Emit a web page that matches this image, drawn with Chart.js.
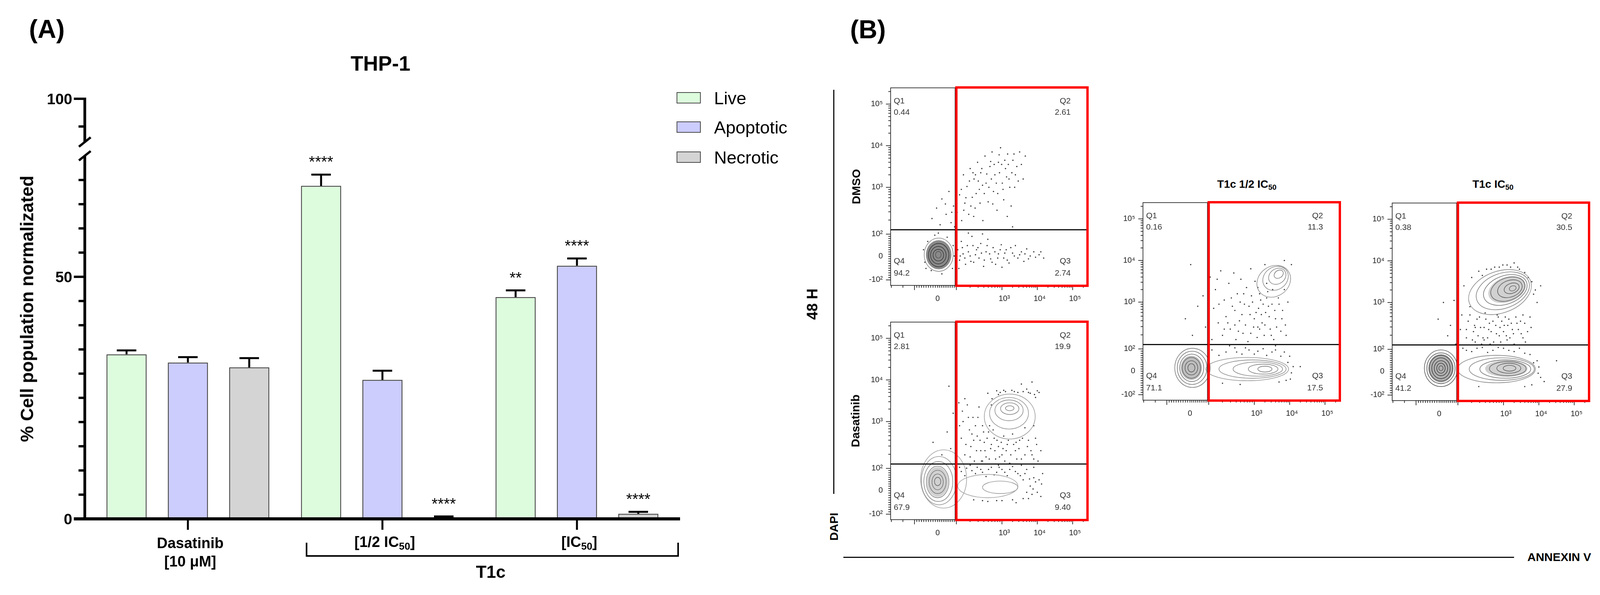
<!DOCTYPE html>
<html><head><meta charset="utf-8">
<script src="https://cdn.jsdelivr.net/npm/chart.js"></script>
<style>
html,body{margin:0;padding:0;background:#fff;}
body{width:4124px;height:1524px;position:relative;overflow:hidden;font-family:"Liberation Sans",Arial,sans-serif;color:#000;}
.t{position:absolute;white-space:nowrap;line-height:1;}
canvas{position:absolute;}
sub{font-size:0.68em;vertical-align:-0.28em;line-height:0;}
.ln{position:absolute;background:#111;}
</style></head><body>
<script>
// ---------------- DATA (panel A) ----------------
const categories = ['Dasatinib [10 μM]', '[1/2 IC50]', '[IC50]'];
const seriesNames = ['Live', 'Apoptotic', 'Necrotic'];
const liveValues = [34.0, 68.8, 45.8];
const liveErrors = [0.8, 2.3, 1.4];
const apoptoticValues = [32.3, 28.7, 52.3];
const apoptoticErrors = [1.1, 1.9, 1.5];
const necroticValues = [31.3, 0.25, 1.05];
const necroticErrors = [1.9, 0.25, 0.4];
const liveStars = ['', '****', '**'];
const apoptoticStars = ['', '', '****'];
const necroticStars = ['', '****', '****'];
const lowerMinorTicks = [5, 10, 15, 20, 25, 30, 35, 40, 45, 55, 60, 65, 70];
const lowerMajorTicks = [0, 50];
const upperMinorTicks = [95];
const upperMajorTicks = [100];
const bracketLabel = 'T1c';

// ---------------- DATA (panel B) ----------------
const flowXTickLabels = ['0', '10³', '10⁴', '10⁵'];
const flowXTickValues = [1.18, 3, 4, 5];
const flowYTickLabels = ['-10²', '0', '10²', '10³', '10⁴', '10⁵'];
const flowYTickValues = [0.775, 1.34, 1.875, 3, 4, 5];
const quadrantNames = ['Q1', 'Q2', 'Q3', 'Q4'];
const dmsoQuadrants = ['0.44', '2.61', '2.74', '94.2'];
const dasatinibQuadrants = ['2.81', '19.9', '9.40', '67.9'];
const halfIc50Quadrants = ['0.16', '11.3', '17.5', '71.1'];
const ic50Quadrants = ['0.38', '30.5', '27.9', '41.2'];

const dmsoDots = [[1.02,2.25],[1.15,2.5],[1.25,2.1],[1.3,2.72],[1.42,2.35],[1.5,2.9],[1.56,2.15],[1.63,2.55],[1.7,3.1],[1.73,2.4],[1.8,2.82],[1.86,2.2],[1.91,3.3],[1.95,2.62],[2.01,3.02],[2.06,2.35],[2.1,3.45],[2.16,2.76],[2.21,3.2],[2.24,2.5],[2.31,3.6],[2.36,2.95],[2.4,3.35],[2.46,2.2],[2.52,3.75],[2.55,3.1],[2.61,2.65],[2.66,3.5],[2.72,3.85],[2.76,2.9],[2.8,3.3],[2.86,2.45],[2.9,3.6],[2.96,3.95],[3.01,3.1],[3.05,2.7],[3.1,3.45],[3.16,3.8],[3.2,3.2],[3.26,2.55],[3.31,3.65],[3.36,3.0],[3.42,3.5],[3.5,3.85],[3.6,3.2],[3.66,3.75],[3.15,2.3],[2.45,3.05],[1.66,2.05],[3.3,2.05],[2.68,3.62],[2.92,3.78],[2.25,3.3],
[1.85,2.95],[1.98,2.75],[2.08,3.15],[2.12,2.55],[2.18,3.35],[2.27,2.85],[2.33,3.15],[2.38,2.62],[2.43,3.45],[2.5,2.85],[2.57,3.32],[2.63,3.0],[2.7,3.2],[2.74,2.6],[2.78,3.55],[2.84,3.1],[2.88,2.85],[2.93,3.35],[2.99,3.55],[3.03,2.95],[3.08,3.65],[3.13,3.25],[3.18,3.55],[3.22,3.0],[3.28,3.35],[3.34,3.8],[3.38,3.3],[3.46,3.15],[3.55,3.55],[2.2,2.3],[1.92,2.45],[1.58,2.4],[1.4,2.6],
[1.75,1.5],[1.8,1.25],[1.85,1.7],[1.9,1.4],[1.97,1.15],[2.02,1.6],[2.1,1.35],[2.15,1.82],[2.2,1.2],[2.28,1.5],[2.35,1.3],[2.4,1.65],[2.48,1.1],[2.55,1.45],[2.6,1.75],[2.68,1.28],[2.75,1.55],[2.82,1.15],[2.9,1.4],[2.98,1.62],[3.05,1.3],[3.12,1.5],[3.2,1.18],[3.3,1.42],[3.38,1.6],[3.45,1.3],[3.55,1.45],[3.62,1.22],[3.7,1.52],[3.8,1.35],[3.9,1.45],[4.05,1.38],[4.18,1.3],[3.0,1.08],[2.45,1.88],[1.78,1.05],[2.05,1.9],
[1.82,1.35],[1.88,1.55],[1.95,1.3],[2.05,1.45],[2.12,1.22],[2.18,1.6],[2.25,1.38],[2.32,1.55],[2.42,1.42],[2.5,1.25],[2.58,1.6],[2.65,1.4],[2.72,1.2],[2.8,1.45],[2.88,1.3],[2.95,1.5],[3.08,1.42],[3.15,1.25],[3.25,1.55],[3.35,1.35],[3.5,1.38],[3.65,1.4],[3.75,1.28],[3.95,1.32],[4.1,1.45],
[0.78,1.5],[0.82,1.2],[0.9,1.7],[1.0,1.0],[1.1,1.85],[1.3,0.92],[1.45,1.8],[1.6,1.05],[1.62,1.6],[0.85,1.05],[1.2,1.9],[1.65,1.35]];
const dmsoBlobs = [[1.21,1.38,0.36,0.35,0,0.75]];
const dmsoContours = [[1.21,1.38,0.41,0.40,0,0.3],[1.21,1.37,0.29,0.28,0,0.9],[1.2,1.37,0.22,0.21,0,0.9],[1.2,1.37,0.15,0.14,0,0.9],[1.2,1.38,0.08,0.08,0,0.7]];

const dasatinibDots = [[1.05,2.5],[1.3,2.2],[1.45,2.75],[1.55,2.35],[1.62,3.2],[1.5,3.85],[1.78,3.45],[1.85,2.6],[1.9,3.0],[1.95,2.2],[2.02,3.4],[2.08,2.8],[2.12,2.4],[2.18,3.1],[2.22,2.05],[2.3,2.65],[2.35,3.35],[2.4,2.3],[2.45,2.9],[2.5,2.5],[2.55,2.15],[2.62,2.75],[2.68,2.35],[2.72,3.55],[2.78,2.6],[2.82,2.1],[2.9,2.4],[2.95,3.7],[3.0,2.2],[3.05,2.65],[3.1,3.72],[3.15,2.45],[3.22,2.0],[3.28,3.75],[3.3,2.7],[3.38,2.3],[3.45,3.7],[3.5,2.55],[3.55,2.1],[3.6,3.72],[3.65,2.85],[3.72,2.4],[3.8,3.68],[3.85,2.2],[3.92,3.65],[3.95,2.6],[4.05,3.7],[4.1,2.3],[3.55,3.9],[3.85,3.95],[2.6,3.68],[2.85,3.74],[3.7,3.78],[4.0,3.74],[2.2,2.55],[2.65,2.9],[3.4,2.5],[3.9,2.9],[1.95,3.55],[2.45,2.05],
[1.8,2.9],[1.88,3.25],[1.98,2.45],[2.05,3.1],[2.1,2.15],[2.15,2.7],[2.25,2.9],[2.28,2.3],[2.32,3.1],[2.38,2.55],[2.42,2.05],[2.48,2.75],[2.52,2.3],[2.58,2.6],[2.64,2.1],[2.7,2.45],[2.75,2.8],[2.8,2.3],[2.86,2.55],[2.93,2.15],[2.98,2.5],[3.03,2.35],[3.08,2.05],[3.12,2.3],[3.18,2.55],[3.25,2.2],[3.33,2.45],[3.42,2.1],[3.48,2.35],[3.58,2.6],[3.65,2.2],[3.75,2.55],[3.82,2.3],[3.9,2.1],[3.98,2.45],[4.02,2.05],[2.9,3.65],[3.05,3.75],[3.35,3.72],[3.75,3.7],[3.95,3.58],[2.7,3.4],
[1.8,1.9],[1.95,1.7],[2.1,1.95],[2.25,1.75],[2.4,1.85],[2.55,1.68],[2.7,1.9],[2.85,1.78],[3.0,1.85],[3.15,1.7],[3.3,1.92],[3.45,1.75],[3.6,1.6],[3.7,1.85],[3.8,1.45],[3.9,1.65],[4.0,1.3],[4.12,1.5],[3.75,1.15],[3.4,1.05],[3.0,1.1],[2.6,1.08],[2.2,1.12],[3.9,1.9],[4.15,1.75],[3.55,1.95],[2.9,1.95],[3.85,1.25],
[1.85,1.8],[2.0,1.88],[2.15,1.82],[2.3,1.9],[2.45,1.78],[2.62,1.85],[2.78,1.72],[2.92,1.9],[3.08,1.78],[3.22,1.85],[3.38,1.8],[3.52,1.7],[3.65,1.75],[3.78,1.62],[3.88,1.38],[3.95,1.55],[4.05,1.6],[3.7,1.3],[3.6,1.15],[3.3,1.12],[2.85,1.1],[2.45,1.1],[4.1,1.2]];
const dasatinibBlobs = [[1.18,1.55,0.3,0.36,0,0.2]];
const dasatinibContours = [[1.35,1.62,0.65,0.70,0,0.1],[2.6,1.45,0.85,0.28,0,0.1],[1.22,1.58,0.50,0.58,0,0.2],[1.2,1.56,0.41,0.48,0,0.3],[1.18,1.55,0.32,0.38,0,0.35],[1.18,1.55,0.24,0.28,0,0.4],[1.18,1.55,0.16,0.19,0,0.45],[1.18,1.56,0.09,0.1,0,0.5],[2.95,1.42,0.5,0.15,0,0.15],[3.22,3.12,0.72,0.54,0,0.15],[3.2,3.2,0.55,0.38,0,0.2],[3.2,3.27,0.4,0.25,0,0.25],[3.22,3.31,0.26,0.14,0,0.3],[3.22,3.32,0.12,0.06,0,0.35]];

const halfIc50Dots = [[1.05,2.6],[1.2,3.9],[1.25,2.2],[1.4,2.9],[1.55,3.15],[1.62,2.4],[1.75,3.6],[1.8,2.1],[1.85,2.85],[1.9,3.3],[1.98,2.5],[2.05,3.75],[2.1,2.2],[2.15,3.05],[2.2,2.65],[2.28,3.45],[2.32,2.35],[2.38,2.9],[2.42,3.7],[2.48,2.1],[2.52,3.2],[2.58,2.55],[2.62,3.55],[2.68,2.25],[2.72,2.95],[2.78,3.35],[2.82,2.05],[2.88,2.7],[2.92,3.15],[2.98,2.4],[3.02,3.5],[3.08,2.15],[3.12,2.85],[3.18,3.05],[3.22,2.5],[3.28,2.2],[3.32,2.75],[3.38,3.25],[3.45,2.35],[3.5,2.95],[3.55,2.1],[3.6,2.6],[3.68,3.1],[3.75,2.3],[3.8,2.8],[3.88,2.45],[3.95,3.0],[4.05,3.9],[3.85,4.0],[2.9,3.8],[3.3,3.9],[2.6,3.0],[3.0,2.6],[3.4,2.9],[2.45,2.45],[3.15,2.35],
[2.25,2.5],[2.35,3.1],[2.45,2.8],[2.55,2.3],[2.65,2.7],[2.7,3.2],[2.75,2.45],[2.85,2.9],[2.9,2.25],[2.95,3.0],[3.05,2.75],[3.1,2.4],[3.15,3.2],[3.2,2.7],[3.25,2.95],[3.3,2.45],[3.35,3.1],[3.42,2.65],[3.48,2.2],[3.52,3.3],[3.58,2.8],[3.63,2.4],[3.7,2.95],[3.78,2.6],[3.85,3.3],[3.9,2.2],[2.0,2.95],[2.15,2.35],[1.95,3.55],[3.1,3.35],[3.35,3.45],
[1.8,1.85],[2.0,1.72],[2.3,1.95],[2.5,1.8],[2.75,1.9],[3.0,1.75],[3.25,1.88],[3.5,1.8],[3.75,1.7],[3.95,1.55],[4.05,1.3],[3.9,1.12],[2.1,1.05],[2.6,1.02],[4.3,1.45],[3.6,1.95],[2.9,1.98],
[2.2,1.8],[2.45,1.9],[2.65,1.75],[2.85,1.85],[3.1,1.82],[3.35,1.72],[3.6,1.85],[3.85,1.8],[4.0,1.7],[4.1,1.45],[4.02,1.15],[3.7,1.08]];
const halfIc50Blobs = [[1.22,1.42,0.3,0.29,0,0.35]];
const halfIc50Contours = [[1.25,1.42,0.5,0.47,0,0.4],[1.24,1.42,0.42,0.4,0,0.45],[1.23,1.42,0.34,0.33,0,0.5],[1.22,1.42,0.26,0.25,0,0.55],[1.22,1.42,0.18,0.17,0,0.6],[1.22,1.42,0.1,0.1,0,0.6],[2.8,1.39,1.17,0.28,0,0.2],[2.95,1.39,0.95,0.22,0,0.25],[3.1,1.39,0.7,0.17,0,0.3],[3.25,1.39,0.42,0.12,0,0.35],[3.3,1.39,0.2,0.07,0,0.4],[3.55,3.5,0.5,0.36,-35,0.2],[3.6,3.57,0.38,0.27,-35,0.25],[3.65,3.62,0.26,0.18,-35,0.3],[3.69,3.67,0.14,0.09,-35,0.35]];

const ic50Dots = [[1.15,2.6],[1.3,3.0],[1.42,2.2],[1.5,2.45],[1.6,3.05],[1.65,2.0],[1.78,2.35],[1.82,2.7],[1.88,3.4],[1.95,2.15],[2.0,2.55],[2.05,2.9],[2.1,3.6],[2.15,2.3],[2.2,2.05],[2.25,2.6],[2.3,3.75],[2.35,2.4],[2.42,2.15],[2.48,2.75],[2.52,3.8],[2.58,2.35],[2.62,2.0],[2.7,2.55],[2.75,3.85],[2.8,2.25],[2.85,2.65],[2.92,2.05],[2.98,3.9],[3.02,2.45],[3.08,2.2],[3.15,2.6],[3.2,3.85],[3.25,2.35],[3.3,2.0],[3.38,2.5],[3.45,3.8],[3.5,2.25],[3.55,2.7],[3.62,2.05],[3.7,3.6],[3.78,2.4],[3.85,3.2],[3.95,3.0],[4.05,3.4],[3.3,3.95],[2.45,2.1],[2.9,2.4],[3.1,2.1],[2.2,2.4],
[1.95,2.35],[2.05,2.7],[2.12,2.1],[2.18,2.45],[2.28,2.2],[2.32,2.65],[2.38,2.0],[2.45,2.4],[2.5,2.6],[2.55,2.15],[2.6,2.5],[2.65,2.3],[2.72,2.05],[2.78,2.45],[2.82,2.7],[2.88,2.2],[2.95,2.55],[3.0,2.3],[3.05,2.65],[3.12,2.45],[3.18,2.15],[3.22,2.5],[3.28,2.25],[3.35,2.65],[3.42,2.35],[3.48,2.55],[3.55,2.15],[3.6,2.5],[3.68,2.3],[3.75,2.65],[2.4,3.65],[2.65,3.8],[2.88,3.85],[3.1,3.9],[3.4,3.85],[3.6,3.72],[3.8,3.5],[3.9,3.3],
[1.85,1.9],[2.1,1.82],[2.4,1.92],[2.7,1.85],[3.0,1.9],[3.3,1.82],[3.6,1.78],[3.85,1.55],[3.98,1.3],[4.5,1.6],[3.6,0.98],[2.3,0.98],[4.15,1.1],
[1.95,1.85],[2.25,1.9],[2.55,1.8],[2.85,1.92],[3.15,1.85],[3.45,1.9],[3.75,1.75],[3.95,1.6],[4.0,1.45],[4.05,1.2],[3.8,1.02]];
const ic50Blobs = [[1.23,1.42,0.36,0.34,0,0.45],[3.08,1.41,0.6,0.2,0,0.2],[3.1,3.31,0.55,0.3,-20,0.2]];
const ic50Contours = [[1.23,1.42,0.47,0.44,0,0.6],[1.23,1.42,0.4,0.37,0,0.7],[1.23,1.42,0.33,0.31,0,0.8],[1.23,1.42,0.26,0.25,0,0.85],[1.23,1.42,0.19,0.18,0,0.85],[1.23,1.42,0.12,0.12,0,0.8],[1.23,1.42,0.06,0.06,0,0.7],[2.8,1.40,1.1,0.33,0,0.3],[2.95,1.40,0.92,0.27,0,0.35],[3.05,1.40,0.72,0.22,0,0.45],[3.12,1.41,0.52,0.17,0,0.55],[3.15,1.42,0.34,0.12,0,0.6],[3.17,1.42,0.18,0.07,0,0.6],[2.9,3.25,0.92,0.5,-20,0.3],[2.98,3.28,0.78,0.42,-20,0.35],[3.05,3.3,0.64,0.34,-20,0.45],[3.12,3.32,0.5,0.27,-20,0.55],[3.18,3.33,0.36,0.2,-20,0.6],[3.23,3.34,0.22,0.12,-20,0.6],[3.26,3.34,0.1,0.06,-20,0.5]];

// ---------------- STYLE / LAYOUT ----------------
const FONT = '"Liberation Sans", Arial, sans-serif';
const barColors = ['#ddfcdd', '#ccccfd', '#d4d4d4'];
const barBorder = '#4a4a4a';
const seriesValues = [liveValues, apoptoticValues, necroticValues];
const seriesErrors = [liveErrors, apoptoticErrors, necroticErrors];
const seriesStars = [liveStars, apoptoticStars, necroticStars];
const yAxisAt = -0.53, xAxisEnd = 2.53, bracketFrom = 0.61, bracketTo = 2.52;
const lowerBreak = 75.0, upperBreak = 92.2;

function el(tag, css, html) {
  const e = document.createElement(tag);
  e.style.cssText = css;
  if (html !== undefined) e.innerHTML = html;
  document.body.appendChild(e);
  return e;
}
function txt(html, x, y, css, anchor) {
  const tr = anchor === 'right' ? 'translate(-100%,-50%)' : anchor === 'left' ? 'translate(0,-50%)' :
             anchor === 'rot' ? 'translate(-50%,-50%) rotate(-90deg)' : 'translate(-50%,-50%)';
  const d = el('div', 'left:' + x + 'px;top:' + y + 'px;transform:' + tr + ';' + css, html);
  d.className = 't';
  return d;
}
function mkCanvas(x, y, w, h) {
  const c = el('canvas', 'left:' + x + 'px;top:' + y + 'px;width:' + w + 'px;height:' + h + 'px;');
  c.width = w; c.height = h;
  return c;
}
const sub = s => s.replace(/IC50/g, 'IC<sub>50</sub>');

// ---------------- PANEL A ----------------
const barDecor = {
  id: 'barDecor',
  afterDatasetsDraw(chart) {
    const ctx = chart.ctx, x = chart.scales.x, yl = chart.scales.yLow, yh = chart.scales.yHigh;
    ctx.save();
    ctx.strokeStyle = '#000'; ctx.fillStyle = '#000'; ctx.lineCap = 'butt';
    seriesValues.forEach((vals, i) => {
      const meta = chart.getDatasetMeta(i);
      vals.forEach((v, j) => {
        const bar = meta.data[j];
        const top = yl.getPixelForValue(v + seriesErrors[i][j]);
        ctx.lineWidth = 5;
        ctx.beginPath();
        ctx.moveTo(bar.x, bar.y); ctx.lineTo(bar.x, top);
        ctx.moveTo(bar.x - 25, top); ctx.lineTo(bar.x + 25, top);
        ctx.stroke();
        const s = seriesStars[i][j];
        if (s) {
          ctx.font = '40px ' + FONT; ctx.textAlign = 'center'; ctx.textBaseline = 'alphabetic';
          ctx.fillText(s, bar.x, top - 19);
        }
      });
    });
    const ax = x.getPixelForValue(yAxisAt);
    const y0 = yl.getPixelForValue(0);
    ctx.lineWidth = 7;
    ctx.beginPath(); ctx.moveTo(ax, y0); ctx.lineTo(ax, yl.getPixelForValue(lowerBreak)); ctx.stroke();
    const y100 = yh.getPixelForValue(100);
    ctx.beginPath(); ctx.moveTo(ax, y100 - 3); ctx.lineTo(ax, yh.getPixelForValue(upperBreak)); ctx.stroke();
    ctx.lineWidth = 6;
    [yl.getPixelForValue(lowerBreak), yh.getPixelForValue(upperBreak)].forEach(c => {
      ctx.beginPath(); ctx.moveTo(ax - 15, c + 12); ctx.lineTo(ax + 15, c - 12); ctx.stroke();
    });
    ctx.lineWidth = 6;
    lowerMinorTicks.forEach(t => { const p = yl.getPixelForValue(t); ctx.beginPath(); ctx.moveTo(ax - 16, p); ctx.lineTo(ax, p); ctx.stroke(); });
    upperMinorTicks.forEach(t => { const p = yh.getPixelForValue(t); ctx.beginPath(); ctx.moveTo(ax - 16, p); ctx.lineTo(ax, p); ctx.stroke(); });
    lowerMajorTicks.forEach(t => { const p = yl.getPixelForValue(t); ctx.beginPath(); ctx.moveTo(ax - 28, p); ctx.lineTo(ax, p); ctx.stroke(); });
    upperMajorTicks.forEach(t => { const p = yh.getPixelForValue(t); ctx.beginPath(); ctx.moveTo(ax - 28, p); ctx.lineTo(ax + 3, p); ctx.stroke(); });
    ctx.lineWidth = 8;
    ctx.beginPath(); ctx.moveTo(ax - 28, y0); ctx.lineTo(x.getPixelForValue(xAxisEnd), y0); ctx.stroke();
    ctx.lineWidth = 5;
    categories.forEach((c, i) => {
      const p = x.getPixelForValue(i);
      ctx.beginPath(); ctx.moveTo(p, y0); ctx.lineTo(p, y0 + 28); ctx.stroke();
    });
    ctx.lineWidth = 4;
    const bl = x.getPixelForValue(bracketFrom), br = x.getPixelForValue(bracketTo);
    ctx.beginPath();
    ctx.moveTo(bl, y0 + 61); ctx.lineTo(bl, y0 + 95); ctx.lineTo(br, y0 + 95); ctx.lineTo(br, y0 + 61);
    ctx.stroke();
    ctx.restore();
  }
};

const barCanvas = mkCanvas(0, 0, 2100, 1524);
const barChart = new Chart(barCanvas, {
  type: 'bar',
  data: {
    labels: categories,
    datasets: seriesNames.map((n, i) => ({
      label: n, data: seriesValues[i], backgroundColor: barColors[i], borderColor: barBorder,
      borderWidth: 2.5, yAxisID: 'yLow', categoryPercentage: 0.946, barPercentage: 0.656
    }))
  },
  options: {
    responsive: false, animation: false, devicePixelRatio: 1,
    layout: { padding: { left: 232, right: 374, top: 253, bottom: 195 } },
    plugins: { legend: { display: false }, tooltip: { enabled: false }, title: { display: false } },
    scales: {
      x: { display: false, offset: true },
      yLow: { type: 'linear', display: false, min: 0, max: 1076 / 12.4, position: 'left' },
      yHigh: { type: 'linear', display: false, min: 100 - 1076 / 14.2, max: 100, position: 'left' }
    }
  },
  plugins: [barDecor]
});

(function panelAText() {
  const x = barChart.scales.x, yl = barChart.scales.yLow, yh = barChart.scales.yHigh;
  const ax = x.getPixelForValue(yAxisAt);
  const y0 = yl.getPixelForValue(0);
  txt('(A)', 120, 74, 'font:bold 66px ' + FONT + ';');
  txt('THP-1', (ax + x.getPixelForValue(xAxisEnd)) / 2 - 5, 162, 'font:bold 53px ' + FONT + ';');
  txt('% Cell population normalizated', 69, (yh.getPixelForValue(100) + y0) / 2, 'font:bold 46px ' + FONT + ';', 'rot');
  upperMajorTicks.forEach(t => txt(String(t), ax - 32, yh.getPixelForValue(t) + 1, 'font:bold 39px ' + FONT + ';', 'right'));
  lowerMajorTicks.forEach(t => txt(String(t), ax - 32, yl.getPixelForValue(t) + 1, 'font:bold 39px ' + FONT + ';', 'right'));
  categories.forEach((c, i) => {
    const p = x.getPixelForValue(i) + 6;
    if (c.indexOf('Dasatinib') === 0) {
      const parts = c.split(' [');
      txt(parts[0], p, y0 + 62, 'font:bold 38px ' + FONT + ';');
      txt('[' + parts[1], p, y0 + 109, 'font:bold 38px ' + FONT + ';');
    } else {
      txt(sub(c), p, y0 + 59, 'font:bold 38px ' + FONT + ';');
    }
  });
  txt(bracketLabel, (x.getPixelForValue(bracketFrom) + x.getPixelForValue(bracketTo)) / 2 - 4, y0 + 136, 'font:bold 44px ' + FONT + ';');
  const legendY = [251, 326, 403];
  seriesNames.forEach((n, i) => {
    el('div', 'position:absolute;left:1732px;top:' + (legendY[i] - 15) + 'px;width:58px;height:25px;background:' + barColors[i] + ';border:2.5px solid ' + barBorder + ';');
    txt(n, 1828, legendY[i] + 1, 'font:45px ' + FONT + ';', 'left');
  });
})();

// ---------------- PANEL B ----------------
const flowXMap = { neg: 0.525, zero: 1.18, p2: 1.71, p3: 3, p4: 4, p5: 5 };
const flowYMap = { neg: 0.775, zero: 1.34, p2: 1.875, p3: 3, p4: 4, p5: 5 };
const XMIN = -0.15, XMAX = 5.42, YMIN = 0.643, YMAX = 5.39, GATE_X = 1.71, GATE_Y = 1.98;

function axisTicks(m, lo, hi) {
  const major = [m.neg, m.p2, m.p3, m.p4, m.p5];
  const minor = [];
  for (let v = 10; v < 100; v += 10) {
    minor.push(m.zero + (m.p2 - m.zero) * v / 100);
    minor.push(m.zero - (m.zero - m.neg) * v / 100);
  }
  minor.push(m.zero);
  for (let k = 2; k < 10; k++) {
    const l = Math.log10(k);
    minor.push(m.p2 + (m.p3 - m.p2) * l, m.p3 + l, m.p4 + l, m.p5 + l);
  }
  minor.push(m.neg - (m.zero - m.neg), m.neg - 0.5 * (m.zero - m.neg));
  return { major, minor: minor.filter(v => v > lo && v < hi) };
}
const xTicks = axisTicks(flowXMap, XMIN, XMAX);
const yTicks = axisTicks(flowYMap, YMIN, YMAX);

function shade(d, base) { const l = Math.round(base - d * 130); return 'rgb(' + l + ',' + l + ',' + l + ')'; }

function makeFlowPlugin(cfg) {
  return {
    id: 'flowDecor',
    afterDatasetsDraw(chart) {
      const ctx = chart.ctx, xs = chart.scales.x, ys = chart.scales.y, a = chart.chartArea;
      ctx.save();
      ctx.beginPath(); ctx.rect(a.left, a.top, a.right - a.left, a.bottom - a.top); ctx.clip();
      const ell = (c) => {
        const [cx, cy, rx, ry, rot] = c;
        const px = xs.getPixelForValue(cx), py = ys.getPixelForValue(cy);
        const rxp = Math.abs(xs.getPixelForValue(cx + rx) - px), ryp = Math.abs(ys.getPixelForValue(cy + ry) - py);
        ctx.beginPath(); ctx.ellipse(px, py, rxp, ryp, rot * Math.PI / 180, 0, 2 * Math.PI);
      };
      cfg.blobs.forEach(b => { ell(b); ctx.fillStyle = shade(b[5], 235); ctx.fill(); });
      ctx.lineWidth = 1.6;
      cfg.contours.forEach(c => { ell(c); ctx.strokeStyle = shade(c[5], 175); ctx.stroke(); });
      ctx.restore();
    },
    afterDraw(chart) {
      const ctx = chart.ctx, xs = chart.scales.x, ys = chart.scales.y, a = chart.chartArea;
      ctx.save();
      ctx.strokeStyle = '#444'; ctx.lineWidth = 2;
      ctx.strokeRect(a.left, a.top, a.right - a.left, a.bottom - a.top);
      ctx.strokeStyle = '#111'; ctx.lineWidth = 1.6;
      xTicks.major.forEach(v => { const p = xs.getPixelForValue(v); ctx.beginPath(); ctx.moveTo(p, a.bottom); ctx.lineTo(p, a.bottom + 12); ctx.stroke(); });
      xTicks.minor.forEach(v => { const p = xs.getPixelForValue(v); ctx.beginPath(); ctx.moveTo(p, a.bottom); ctx.lineTo(p, a.bottom + 6); ctx.stroke(); });
      yTicks.major.forEach(v => { const p = ys.getPixelForValue(v); ctx.beginPath(); ctx.moveTo(a.left, p); ctx.lineTo(a.left - 12, p); ctx.stroke(); });
      yTicks.minor.forEach(v => { const p = ys.getPixelForValue(v); ctx.beginPath(); ctx.moveTo(a.left, p); ctx.lineTo(a.left - 6, p); ctx.stroke(); });
      ctx.fillStyle = '#222'; ctx.font = '20px ' + FONT; ctx.textBaseline = 'middle';
      ctx.textAlign = 'center';
      flowXTickValues.forEach((v, i) => ctx.fillText(flowXTickLabels[i], xs.getPixelForValue(v) + (i ? 6 : 0), a.bottom + 34));
      ctx.textAlign = 'right';
      flowYTickValues.forEach((v, i) => ctx.fillText(flowYTickLabels[i], a.left - 20, ys.getPixelForValue(v)));
      const gy = ys.getPixelForValue(GATE_Y), gx = xs.getPixelForValue(GATE_X);
      ctx.strokeStyle = '#111'; ctx.lineWidth = 3;
      ctx.beginPath(); ctx.moveTo(a.left, gy); ctx.lineTo(a.right, gy); ctx.stroke();
      ctx.lineWidth = 2;
      ctx.beginPath(); ctx.moveTo(gx - 3, a.top); ctx.lineTo(gx - 3, a.bottom); ctx.stroke();
      ctx.fillStyle = '#333'; ctx.font = '21px ' + FONT; ctx.textBaseline = 'alphabetic';
      const L = a.left + 8, R = a.left + 461;
      ctx.textAlign = 'left';
      ctx.fillText(quadrantNames[0], L, a.top + 40); ctx.fillText(cfg.quads[0], L, a.top + 69);
      ctx.fillText(quadrantNames[3], L, a.top + 450); ctx.fillText(cfg.quads[3], L, a.top + 481);
      ctx.textAlign = 'right';
      ctx.fillText(quadrantNames[1], R, a.top + 40); ctx.fillText(cfg.quads[1], R, a.top + 69);
      ctx.fillText(quadrantNames[2], R, a.top + 450); ctx.fillText(cfg.quads[2], R, a.top + 481);
      ctx.strokeStyle = '#ff0000'; ctx.lineWidth = 6;
      ctx.strokeRect(gx, a.top - 1, a.right - gx, a.bottom - a.top + 2);
      ctx.restore();
    }
  };
}

const flowPlots = [
  { left: 2280, top: 225, dots: dmsoDots, blobs: dmsoBlobs, contours: dmsoContours, quads: dmsoQuadrants },
  { left: 2280, top: 825, dots: dasatinibDots, blobs: dasatinibBlobs, contours: dasatinibContours, quads: dasatinibQuadrants },
  { left: 2926, top: 519, dots: halfIc50Dots, blobs: halfIc50Blobs, contours: halfIc50Contours, quads: halfIc50Quadrants },
  { left: 3564, top: 520, dots: ic50Dots, blobs: ic50Blobs, contours: ic50Contours, quads: ic50Quadrants }
];
flowPlots.forEach(cfg => {
  const cv = mkCanvas(cfg.left - 95, cfg.top - 15, 614, 586);
  new Chart(cv, {
    type: 'scatter',
    data: { datasets: [{ data: cfg.dots.map(([x, y]) => ({ x, y })), pointRadius: 1.7, pointBackgroundColor: '#333', pointBorderWidth: 0 }] },
    options: {
      responsive: false, animation: false, devicePixelRatio: 1,
      layout: { padding: { left: 95, right: 15, top: 15, bottom: 65 } },
      plugins: { legend: { display: false }, tooltip: { enabled: false } },
      scales: { x: { display: false, min: XMIN, max: XMAX }, y: { display: false, min: YMIN, max: YMAX } }
    },
    plugins: [makeFlowPlugin(cfg)]
  });
});

txt('(B)', 2222, 75, 'font:bold 66px ' + FONT + ';');
txt('48 H', 2080, 779, 'font:bold 38px ' + FONT + ';', 'rot');
txt('DAPI', 2135, 1349, 'font:bold 30px ' + FONT + ';', 'rot');
txt('DMSO', 2192, 478, 'font:bold 30px ' + FONT + ';', 'rot');
txt('Dasatinib', 2190, 1078, 'font:bold 30px ' + FONT + ';', 'rot');
txt('T1c 1/2 ' + sub('IC50'), 3192, 472, 'font:bold 28px ' + FONT + ';');
txt('T1c ' + sub('IC50'), 3822, 472, 'font:bold 28px ' + FONT + ';');
txt('ANNEXIN V', 3910, 1427, 'font:bold 30px ' + FONT + ';', 'left');
el('div', 'left:2133px;top:230px;width:3px;height:1035px;', '').className = 'ln';
el('div', 'left:2159px;top:1426px;width:1717px;height:3px;', '').className = 'ln';
</script>
</body></html>
